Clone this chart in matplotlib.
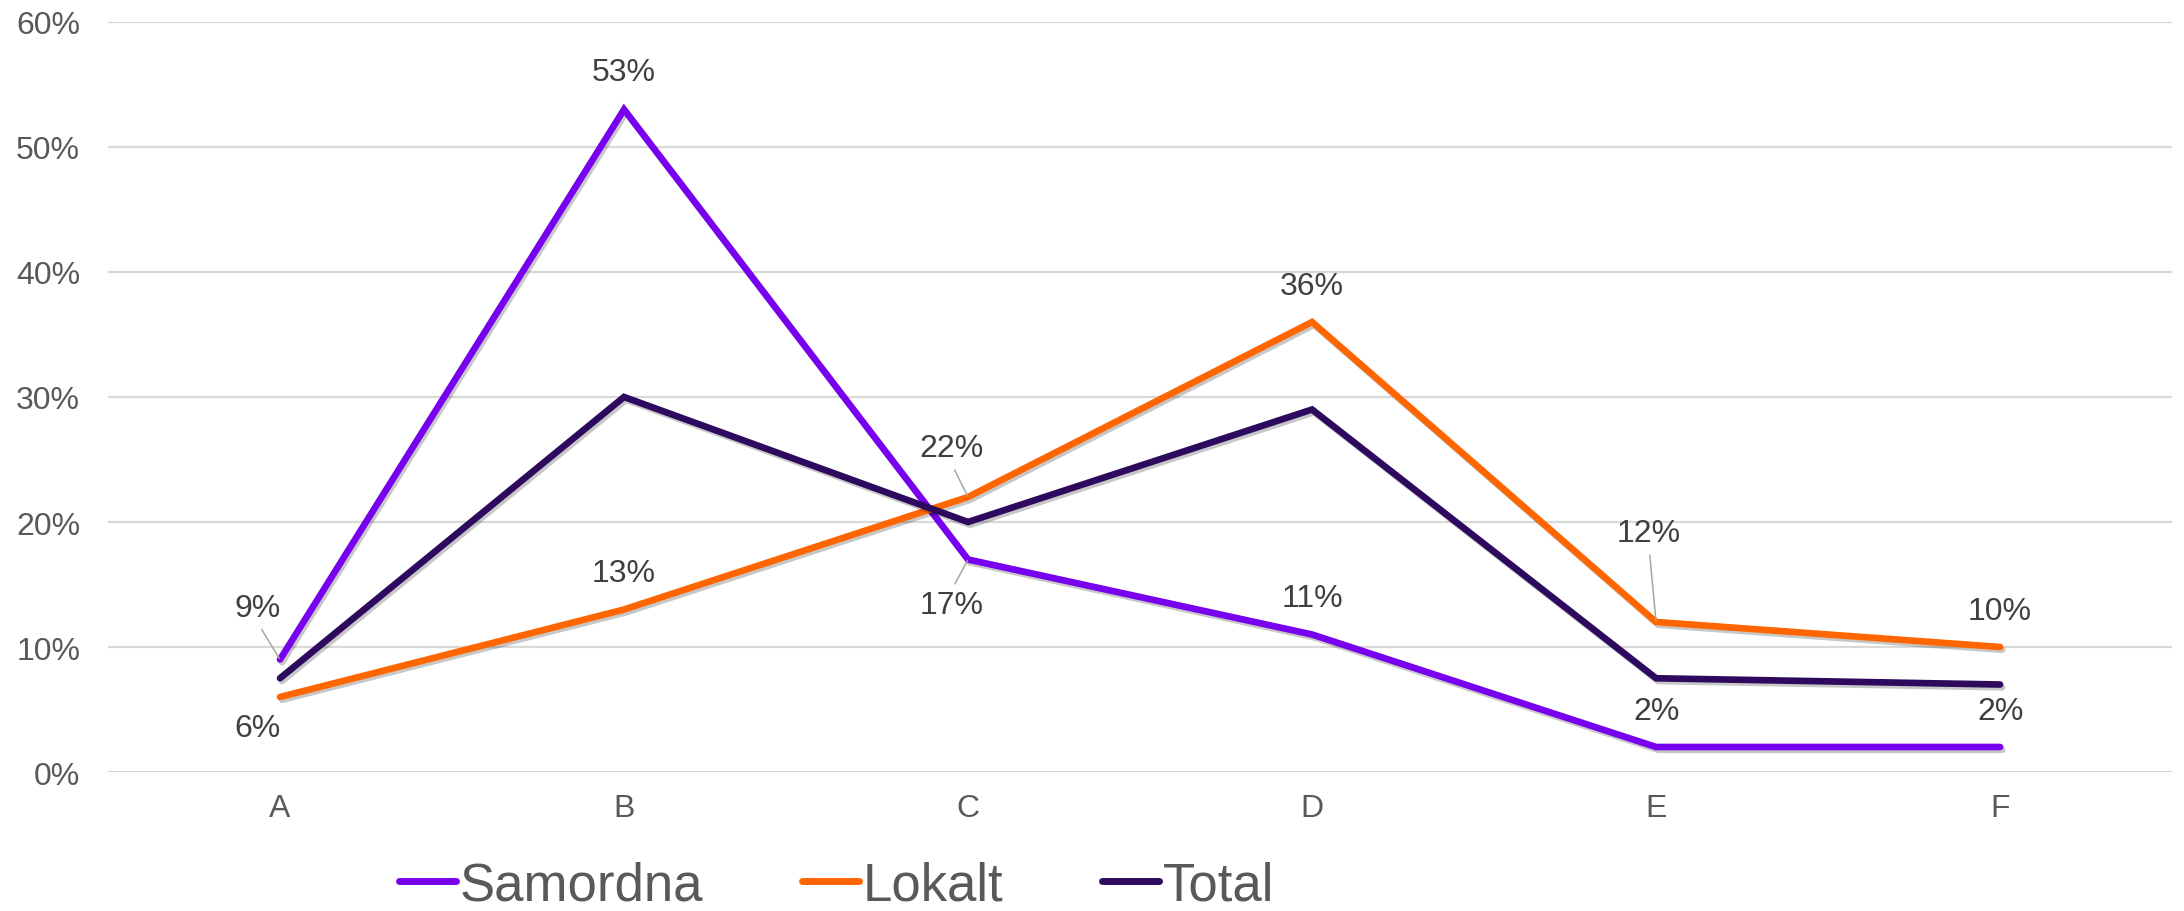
import matplotlib
matplotlib.use("Agg")
import matplotlib.pyplot as plt
import matplotlib.patheffects as pe
from matplotlib.ticker import FuncFormatter

plt.rcParams['font.family'] = ['Liberation Sans', 'DejaVu Sans']

categories = ["A", "B", "C", "D", "E", "F"]
samordna = [9, 53, 17, 11, 2, 2]
lokalt = [6, 13, 22, 36, 12, 10]
total = [7.5, 30, 20, 29, 7.5, 7]
series_names = ["Samordna", "Lokalt", "Total"]
colors = ["#7700EE", "#FF6600", "#2E0A5E"]

# label offsets (points) per point: (dx, dy, leader)
samordna_lab = [(-16, 37, True), (0, 27, False), (-12, -33, True), (0, 26, False), (0, 26, False), (0, 26, False)]
lokalt_lab = [(-16, -22, False), (0, 26, False), (-12, 35, True), (0, 26, False), (-5, 64, True), (0, 26, False)]

fig = plt.figure(figsize=(21.84, 9.12), dpi=100)
ax = fig.add_axes([0.04945, 0.1524, 0.9451, 0.8224])

x = list(range(len(categories)))
shadow = [pe.SimpleLineShadow(offset=(1.5, -2), shadow_color="black", alpha=0.22), pe.Normal()]
for name, vals, c in zip(series_names, [samordna, lokalt, total], colors):
    ax.plot(x, [v / 100 for v in vals], color=c, lw=4.8, label=name,
            solid_joinstyle="miter", solid_capstyle="round", path_effects=shadow,
            clip_on=False, zorder=3)

def add_labels(vals, labs):
    for xi, (v, (dx, dy, lead)) in zip(x, zip(vals, labs)):
        kw = {}
        if lead:
            rel = (0.5, 0.0) if dy > 0 else (0.5, 1.0)
            kw["arrowprops"] = dict(arrowstyle="-", color="#A6A6A6", lw=1.1,
                                    shrinkA=3, shrinkB=1, relpos=rel)
        ax.annotate(f"{v:.0f}%", xy=(xi, v / 100), xytext=(dx, dy),
                    textcoords="offset points", ha="center", va="center",
                    fontsize=23, color="#404040", zorder=5, **kw)

add_labels(samordna, samordna_lab)
add_labels(lokalt, lokalt_lab)

ax.set_xlim(-0.5, len(categories) - 0.5)
ax.set_ylim(0, 0.6)
ax.set_yticks([0, 0.1, 0.2, 0.3, 0.4, 0.5, 0.6])
ax.yaxis.set_major_formatter(FuncFormatter(lambda v, p: f"{v*100:.0f}%"))
ax.set_xticks(x)
ax.set_xticklabels(categories)
ax.tick_params(axis="y", length=0, pad=20, labelsize=23, labelcolor="#595959")
ax.tick_params(axis="x", length=0, pad=15, labelsize=23, labelcolor="#595959")
ax.grid(axis="y", color="#D9D9D9", lw=1.6)
ax.set_axisbelow(True)
for s in ax.spines.values():
    s.set_visible(False)

leg = fig.legend(loc="center", bbox_to_anchor=(0.383, 0.0277), ncol=3, frameon=False,
                 fontsize=38, handlelength=1.08, handletextpad=0.08, columnspacing=1.86,
                 labelcolor="#595959", borderpad=0)
for h in leg.get_lines():
    h.set_linewidth(5)
    h.set_path_effects([])

fig.savefig("out.png", dpi=100)
